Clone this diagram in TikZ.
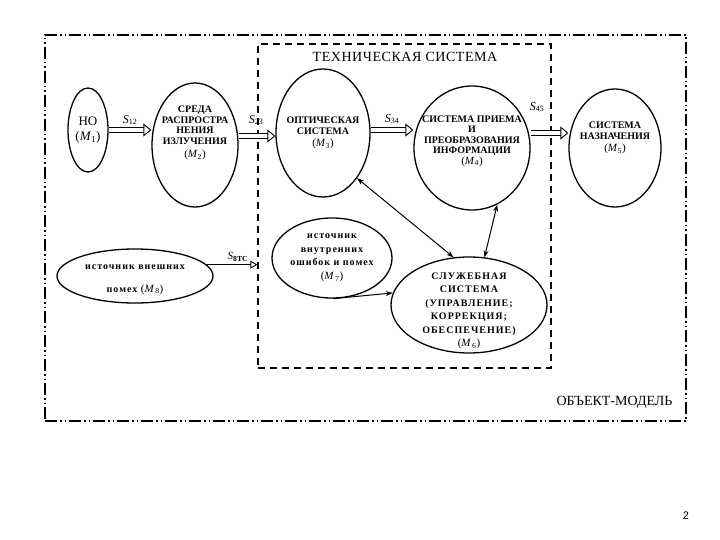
\documentclass[tikz,border=0pt]{standalone}
\usepackage{fontspec}
\setmainfont{Liberation Serif}
\newfontfamily\pgnum{Liberation Sans}
\usetikzlibrary{shapes.geometric,arrows.meta}
\newcommand{\Mlab}[1]{{\fontsize{11}{12}\selectfont\mdseries(\textit{M}\textsubscript{#1})}}
\newcommand{\Slab}[1]{\textit{S}\textsubscript{#1}}
\newcommand{\dn}[1]{\rule[-#1]{0pt}{0pt}}
\newcommand{\up}[1]{\rule{0pt}{#1}}
\begin{document}
\begin{tikzpicture}[x=1pt,y=-1pt,
  ell/.style={draw, ellipse, line width=1.3pt, inner sep=-30pt, align=center,
    font=\bfseries\fontsize{10}{10.5}\selectfont},
  spaced/.style={font=\bfseries\fontsize{10}{13.5}\selectfont\addfontfeature{LetterSpace=10}},
  dbl/.style={draw, double, double distance=4.5pt, line width=0.9pt,
    -{Triangle[open,length=8pt,width=13pt]}},
  biarr/.style={draw, line width=1pt,
    {Stealth[length=7pt,width=5pt]}-{Stealth[length=7pt,width=5pt]}},
  onearr/.style={draw, line width=1pt, -{Stealth[length=7pt,width=5pt]}},
  openarr/.style={draw, line width=0.9pt, -{Triangle[open,length=7pt,width=8pt]}},
  slabel/.style={font=\fontsize{12}{14}\selectfont, inner sep=0pt}
]
\useasboundingbox (0,0) rectangle (720,540);

% frames
\node[draw, line width=1.5pt, dash pattern=on 12pt off 3pt on 1.5pt off 3pt on 1.5pt off 3pt,
      minimum width=641pt, minimum height=386pt, inner sep=0pt] (om) at (365.5,228) {};
\node[draw, line width=1.1pt, dash pattern=on 7pt off 5pt,
      minimum width=293pt, minimum height=324pt, inner sep=0pt] (ts) at (404.5,206) {};
\node[font=\fontsize{14}{16}\selectfont\addfontfeature{LetterSpace=4}] (tstitle) at (405,57) {ТЕХНИЧЕСКАЯ СИСТЕМА};
\node[font=\fontsize{14}{16}\selectfont, anchor=east] (omtitle) at (676,402) {ОБЪЕКТ-МОДЕЛЬ};

% ellipses
\node[ell, minimum width=40pt, minimum height=84pt, font=\fontsize{13}{15}\selectfont] (m1) at (88,130)
  {НО\\(\textit{M}\textsubscript{1})};
\node[ell, minimum width=86pt, minimum height=124pt] (m2) at (195,145)
  {СРЕДА\\РАСПРОСТРА\\НЕНИЯ\\ИЗЛУЧЕНИЯ\\[3pt]\Mlab{2}\dn{26pt}};
\node[ell, minimum width=94pt, minimum height=128pt] (m3) at (323,133)
  {ОПТИЧЕСКАЯ\\СИСТЕМА\\[2pt]\Mlab{3}};
\node[ell, minimum width=116pt, minimum height=124pt] (m4) at (472,148)
  {СИСТЕМА ПРИЕМА\\И\\ПРЕОБРАЗОВАНИЯ\\ИНФОРМАЦИИ\\\Mlab{4}\dn{16pt}};
\node[ell, minimum width=92pt, minimum height=118pt] (m5) at (615,148)
  {СИСТЕМА\\НАЗНАЧЕНИЯ\\[2pt]\Mlab{5}\dn{22pt}};
\node[ell, spaced, minimum width=156pt, minimum height=54pt] (m8) at (135,276)
  {\up{12pt}источник внешних\\[9pt]помех \Mlab{8}};
\node[ell, spaced, minimum width=120pt, minimum height=80pt] (m7) at (332,258)
  {источник\\внутренних\\ошибок и помех\\\Mlab{7}};
\node[ell, spaced, minimum width=156pt, minimum height=96pt] (m6) at (469,305)
  {\up{18pt}СЛУЖЕБНАЯ\\СИСТЕМА\\(УПРАВЛЕНИЕ;\\КОРРЕКЦИЯ;\\ОБЕСПЕЧЕНИЕ)\\\Mlab{6}};

% double arrows
\draw[dbl] (m1.east) -- (m1.east -| m2.west);
\draw[dbl] (m2.east |- 0,136) coordinate (a23) -- (a23 -| m3.west);
\draw[dbl] (m3.east |- 0,130) coordinate (a34) -- (a34 -| m4.west);
\draw[dbl] (m4.east |- 0,133) coordinate (a45) -- (a45 -| m5.west);

\node[slabel] (s12) at (130,120) {\Slab{12}};
\node[slabel] (s23) at (256,120) {\Slab{23}};
\node[slabel] (s34) at (392,119) {\Slab{34}};
\node[slabel] (s45) at (537,107) {\Slab{45}};
\node[slabel, font=\fontsize{11}{12}\selectfont] (s8) at (238,257) {\textit{S}\textsubscript{\textbf{8ТС}}};

\draw[openarr] (m8.9) -- (m8.9 -| ts.west);

% links
\draw[biarr] (m3.-53) -- (m6.108);
\draw[biarr] (m4.-66) -- (m6.72);
\draw[onearr] (m7.-88) -- (m6.171);

\node[font=\pgnum\fontsize{11}{13}\selectfont] (pg) at (686,516) {2};
\end{tikzpicture}
\end{document}
